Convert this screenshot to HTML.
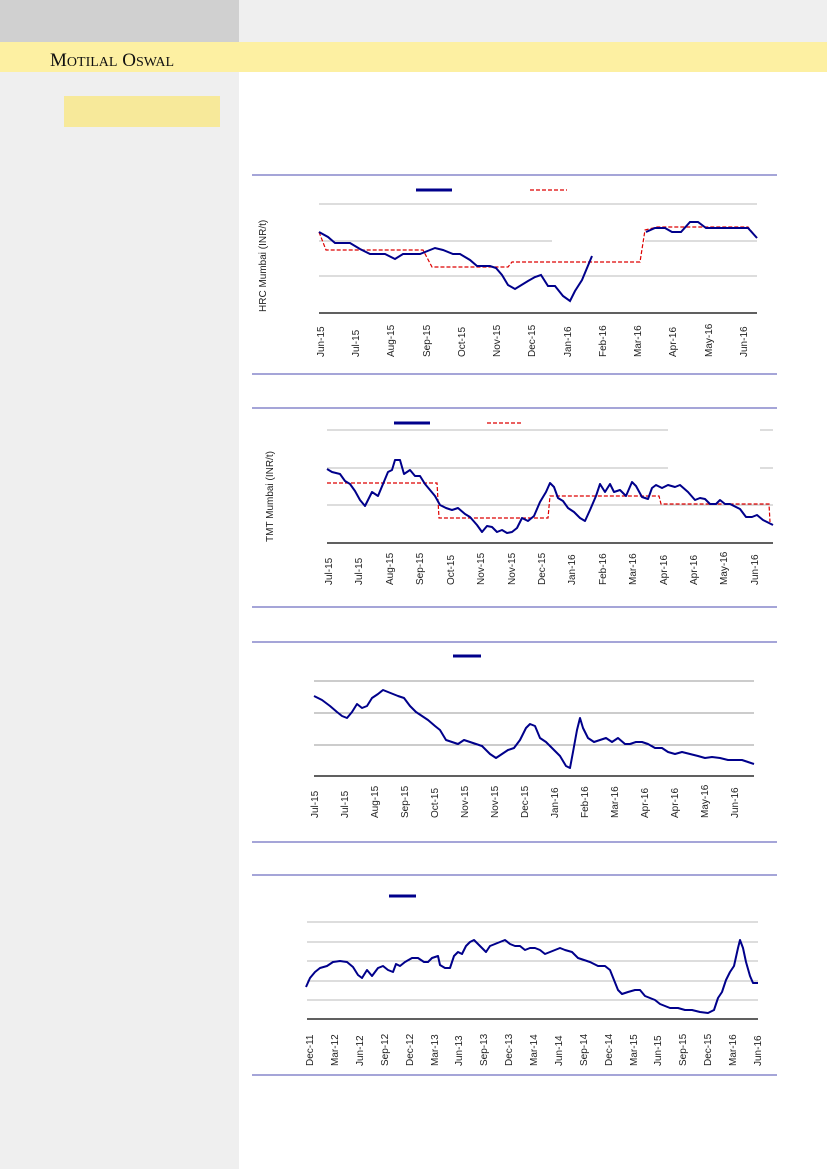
<!DOCTYPE html>
<html><head><meta charset="utf-8"><style>
html,body{margin:0;padding:0;background:#fff}
svg{display:block}
text{font-family:"Liberation Sans",sans-serif;font-size:10px;fill:#222}
</style></head><body>
<svg width="827" height="1169" viewBox="0 0 827 1169" xmlns="http://www.w3.org/2000/svg">
<rect x="0" y="0" width="827" height="1169" fill="#fff"/>
<rect x="0" y="0" width="239" height="1169" fill="#efefef"/>
<rect x="0" y="0" width="239" height="42" fill="#d0d0d0"/>
<rect x="239" y="0" width="588" height="42" fill="#efefef"/>
<rect x="0" y="42" width="827" height="30" fill="#fdf0a2"/>
<text x="50" y="66" style="font-family:'Liberation Serif',serif;font-size:19px;fill:#111">M<tspan font-size="14">OTILAL</tspan> O<tspan font-size="14">SWAL</tspan></text>
<rect x="64" y="96" width="156" height="31" fill="#f7e99a"/>

<g stroke="#6f6fc0" stroke-width="1.2">
<line x1="252" y1="175" x2="777" y2="175"/><line x1="252" y1="374" x2="777" y2="374"/>
<line x1="252" y1="408" x2="777" y2="408"/><line x1="252" y1="607" x2="777" y2="607"/>
<line x1="252" y1="642" x2="777" y2="642"/><line x1="252" y1="842" x2="777" y2="842"/>
<line x1="252" y1="875" x2="777" y2="875"/><line x1="252" y1="1075" x2="777" y2="1075"/>
</g>

<!-- Chart 1 -->
<g stroke="#bbb" stroke-width="1">
<line x1="319" y1="204" x2="757" y2="204"/><line x1="319" y1="241" x2="552" y2="241"/><line x1="645" y1="241" x2="757" y2="241"/><line x1="319" y1="276" x2="757" y2="276"/>
</g>
<line x1="319" y1="313" x2="757" y2="313" stroke="#000" stroke-width="1.2"/>
<line x1="416" y1="190" x2="452" y2="190" stroke="#00008b" stroke-width="3"/>
<line x1="530" y1="190" x2="567" y2="190" stroke="#d00" stroke-width="1.2" stroke-dasharray="4,2"/>
<text transform="translate(266,312) rotate(-90)" font-size="9.5">HRC Mumbai (INR/t)</text>
<polyline fill="none" stroke="#d00" stroke-width="1.2" stroke-dasharray="4,2" points="319,232 326,250 423,250 432,267 508,267 512,262 640,262 645,230 657,227 748,227 757,238"/>
<polyline fill="none" stroke="#00008b" stroke-width="2" points="319,232 328,237 335,243 350,243 360,249 370,254 385,254 395,259 403,254 420,254 435,248 443,250 453,254 460,254 470,260 477,266 490,266 496,268 502,275 508,285 515,289 528,281 535,277 541,275 548,286 555,286 563,296 570,301 575,291 582,280 592,256"/>
<polyline fill="none" stroke="#00008b" stroke-width="2" points="646,232 655,228 665,228 672,232 681,232 690,222 698,222 706,228 748,228 757,238"/>
<g>
<text transform="translate(324,357) rotate(-90)">Jun-15</text>
<text transform="translate(359,357) rotate(-90)">Jul-15</text>
<text transform="translate(394,357) rotate(-90)">Aug-15</text>
<text transform="translate(430,357) rotate(-90)">Sep-15</text>
<text transform="translate(465,357) rotate(-90)">Oct-15</text>
<text transform="translate(500,357) rotate(-90)">Nov-15</text>
<text transform="translate(535,357) rotate(-90)">Dec-15</text>
<text transform="translate(571,357) rotate(-90)">Jan-16</text>
<text transform="translate(606,357) rotate(-90)">Feb-16</text>
<text transform="translate(641,357) rotate(-90)">Mar-16</text>
<text transform="translate(676,357) rotate(-90)">Apr-16</text>
<text transform="translate(712,357) rotate(-90)">May-16</text>
<text transform="translate(747,357) rotate(-90)">Jun-16</text>
</g>

<!-- Chart 2 -->
<g stroke="#bbb" stroke-width="1">
<line x1="327" y1="430" x2="668" y2="430"/><line x1="760" y1="430" x2="773" y2="430"/>
<line x1="327" y1="468" x2="668" y2="468"/><line x1="760" y1="468" x2="773" y2="468"/>
<line x1="327" y1="505" x2="773" y2="505"/>
</g>
<line x1="327" y1="543" x2="773" y2="543" stroke="#000" stroke-width="1.2"/>
<line x1="394" y1="423" x2="430" y2="423" stroke="#00008b" stroke-width="3"/>
<line x1="487" y1="423" x2="521" y2="423" stroke="#d00" stroke-width="1.2" stroke-dasharray="4,2"/>
<text transform="translate(273,542) rotate(-90)" font-size="10">TMT Mumbai (INR/t)</text>
<polyline fill="none" stroke="#d00" stroke-width="1.2" stroke-dasharray="4,2" points="327,483 437,483 439,518 548,518 550,496 659,496 661,504 769,504 770,522"/>
<polyline fill="none" stroke="#00008b" stroke-width="2" stroke-linejoin="round" points="327,469 332,472 340,474 345,481 350,484 355,491 360,500 365,506 372,492 378,496 383,484 388,472 392,470 395,460 400,460 404,474 410,470 415,476 420,476 425,484 430,490 435,496 440,505 446,508 452,510 458,508 465,514 470,517 477,525 482,532 487,526 492,527 497,532 502,530 507,533 512,532 517,528 522,518 528,521 534,516 540,502 546,492 550,483 554,487 558,498 563,501 568,508 574,512 580,518 585,521 590,510 596,496 600,484 605,492 610,484 614,492 620,490 626,496 632,482 636,486 642,497 648,499 652,488 656,485 662,488 668,485 675,487 680,485 688,492 695,500 700,498 705,499 710,504 716,504 720,500 725,504 730,504 740,509 746,517 752,517 757,515 763,520 773,525"/>
<g>
<text transform="translate(332,585) rotate(-90)">Jul-15</text>
<text transform="translate(362,585) rotate(-90)">Jul-15</text>
<text transform="translate(393,585) rotate(-90)">Aug-15</text>
<text transform="translate(423,585) rotate(-90)">Sep-15</text>
<text transform="translate(454,585) rotate(-90)">Oct-15</text>
<text transform="translate(484,585) rotate(-90)">Nov-15</text>
<text transform="translate(515,585) rotate(-90)">Nov-15</text>
<text transform="translate(545,585) rotate(-90)">Dec-15</text>
<text transform="translate(575,585) rotate(-90)">Jan-16</text>
<text transform="translate(606,585) rotate(-90)">Feb-16</text>
<text transform="translate(636,585) rotate(-90)">Mar-16</text>
<text transform="translate(667,585) rotate(-90)">Apr-16</text>
<text transform="translate(697,585) rotate(-90)">Apr-16</text>
<text transform="translate(727,585) rotate(-90)">May-16</text>
<text transform="translate(758,585) rotate(-90)">Jun-16</text>
</g>

<!-- Chart 3 -->
<g stroke="#999" stroke-width="1">
<line x1="314" y1="681" x2="754" y2="681"/><line x1="314" y1="713" x2="754" y2="713"/><line x1="314" y1="745" x2="754" y2="745"/>
</g>
<line x1="314" y1="776" x2="754" y2="776" stroke="#000" stroke-width="1.2"/>
<line x1="453" y1="656" x2="481" y2="656" stroke="#00008b" stroke-width="3"/>
<polyline fill="none" stroke="#00008b" stroke-width="2" stroke-linejoin="round" points="314,696 322,700 330,706 337,712 342,716 347,718 352,712 357,704 362,708 367,706 372,698 378,694 383,690 388,692 393,694 398,696 404,698 410,706 416,712 422,716 428,720 435,726 440,730 446,740 452,742 458,744 464,740 470,742 476,744 482,746 490,754 496,758 502,754 508,750 514,748 520,740 526,728 530,724 535,726 540,738 546,742 552,748 560,756 566,766 570,768 573,752 577,730 580,718 583,728 588,738 594,742 600,740 606,738 612,742 618,738 625,744 630,744 636,742 642,742 648,744 655,748 662,748 668,752 675,754 682,752 690,754 698,756 705,758 712,757 720,758 728,760 735,760 742,760 748,762 754,764"/>
<g>
<text transform="translate(318,818) rotate(-90)">Jul-15</text>
<text transform="translate(348,818) rotate(-90)">Jul-15</text>
<text transform="translate(378,818) rotate(-90)">Aug-15</text>
<text transform="translate(408,818) rotate(-90)">Sep-15</text>
<text transform="translate(438,818) rotate(-90)">Oct-15</text>
<text transform="translate(468,818) rotate(-90)">Nov-15</text>
<text transform="translate(498,818) rotate(-90)">Nov-15</text>
<text transform="translate(528,818) rotate(-90)">Dec-15</text>
<text transform="translate(558,818) rotate(-90)">Jan-16</text>
<text transform="translate(588,818) rotate(-90)">Feb-16</text>
<text transform="translate(618,818) rotate(-90)">Mar-16</text>
<text transform="translate(648,818) rotate(-90)">Apr-16</text>
<text transform="translate(678,818) rotate(-90)">Apr-16</text>
<text transform="translate(708,818) rotate(-90)">May-16</text>
<text transform="translate(738,818) rotate(-90)">Jun-16</text>
</g>

<!-- Chart 4 -->
<g stroke="#bbb" stroke-width="1">
<line x1="307" y1="922" x2="758" y2="922"/><line x1="307" y1="942" x2="758" y2="942"/><line x1="307" y1="961" x2="758" y2="961"/><line x1="307" y1="981" x2="758" y2="981"/><line x1="307" y1="1000" x2="758" y2="1000"/>
</g>
<line x1="307" y1="1019" x2="758" y2="1019" stroke="#000" stroke-width="1.2"/>
<line x1="389" y1="896" x2="416" y2="896" stroke="#00008b" stroke-width="3"/>
<polyline fill="none" stroke="#00008b" stroke-width="2" stroke-linejoin="round" points="306,987 310,978 315,972 320,968 327,966 333,962 340,961 347,962 353,967 358,975 362,978 367,970 372,976 378,968 383,966 388,970 393,972 396,964 400,966 405,962 412,958 418,958 424,962 428,962 432,958 438,956 440,965 445,968 450,968 454,956 458,952 462,954 466,946 470,942 474,940 478,944 482,948 486,952 490,946 495,944 500,942 505,940 510,944 515,946 520,946 525,950 530,948 535,948 540,950 545,954 550,952 555,950 560,948 565,950 572,952 578,958 584,960 590,962 598,966 605,966 610,970 614,980 618,990 622,994 628,992 635,990 640,990 645,996 650,998 655,1000 660,1004 665,1006 670,1008 678,1008 685,1010 692,1010 700,1012 708,1013 714,1010 718,998 722,992 726,980 730,972 734,966 738,948 740,940 743,948 746,962 750,976 753,983 758,983"/>
<g>
<text transform="translate(313,1066) rotate(-90)">Dec-11</text>
<text transform="translate(338,1066) rotate(-90)">Mar-12</text>
<text transform="translate(363,1066) rotate(-90)">Jun-12</text>
<text transform="translate(388,1066) rotate(-90)">Sep-12</text>
<text transform="translate(413,1066) rotate(-90)">Dec-12</text>
<text transform="translate(438,1066) rotate(-90)">Mar-13</text>
<text transform="translate(462,1066) rotate(-90)">Jun-13</text>
<text transform="translate(487,1066) rotate(-90)">Sep-13</text>
<text transform="translate(512,1066) rotate(-90)">Dec-13</text>
<text transform="translate(537,1066) rotate(-90)">Mar-14</text>
<text transform="translate(562,1066) rotate(-90)">Jun-14</text>
<text transform="translate(587,1066) rotate(-90)">Sep-14</text>
<text transform="translate(612,1066) rotate(-90)">Dec-14</text>
<text transform="translate(637,1066) rotate(-90)">Mar-15</text>
<text transform="translate(661,1066) rotate(-90)">Jun-15</text>
<text transform="translate(686,1066) rotate(-90)">Sep-15</text>
<text transform="translate(711,1066) rotate(-90)">Dec-15</text>
<text transform="translate(736,1066) rotate(-90)">Mar-16</text>
<text transform="translate(761,1066) rotate(-90)">Jun-16</text>
</g>
</svg>
</body></html>
